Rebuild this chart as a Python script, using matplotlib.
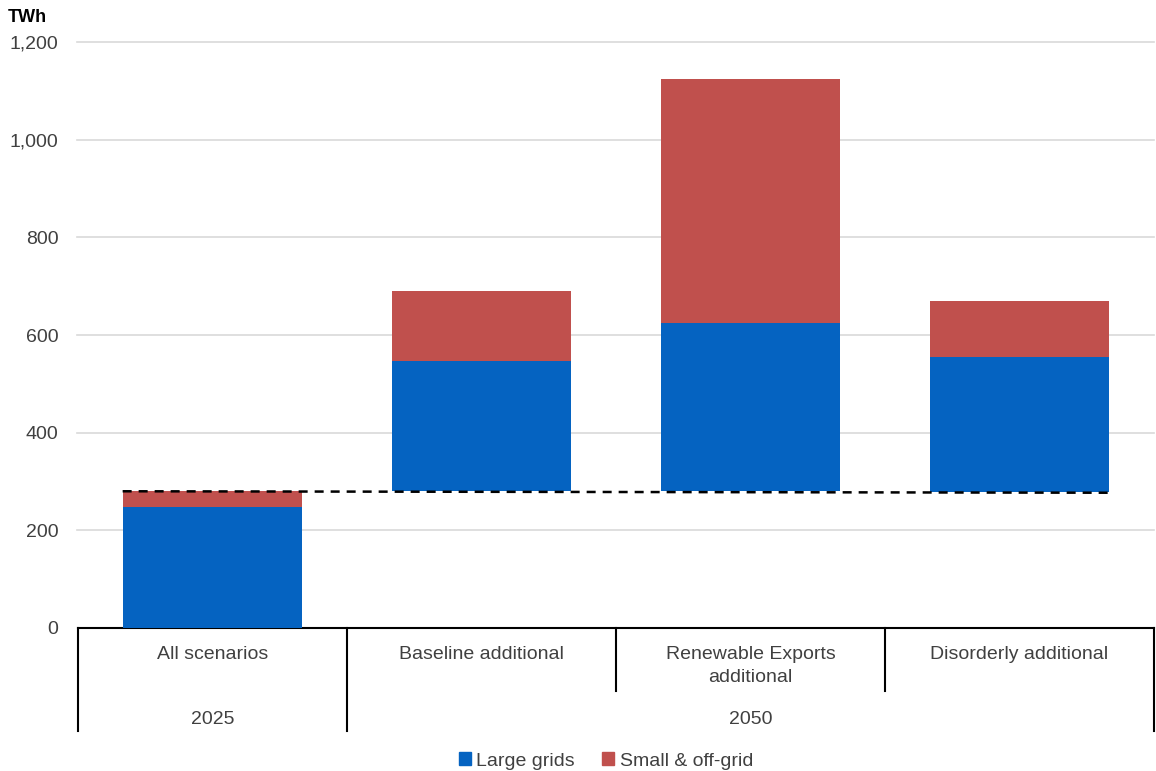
import matplotlib
matplotlib.use("Agg")
import matplotlib.pyplot as plt
from matplotlib.lines import Line2D
from matplotlib.transforms import blended_transform_factory
from matplotlib.patches import Patch

plt.rcParams['font.family'] = ['Liberation Sans', 'DejaVu Sans']

# Data (TWh)
categories = ["All scenarios", "Baseline additional", "Renewable Exports\nadditional", "Disorderly additional"]
years = ["2025", "2050"]
year_spans = [(0, 1), (1, 4)]          # category index ranges per year group
bar_base = [0, 280, 280, 279]
large_grids = [248, 267, 345, 276]
small_offgrid = [32, 143, 499, 115]
reference_line = [280, 277]            # 2025 total carried across scenarios
yticks = [0, 200, 400, 600, 800, 1000, 1200]

BLUE = "#0563C1"
RED = "#C0504D"
TXT = "#404040"

W, H = 1156, 771
fig = plt.figure(figsize=(W / 100, H / 100), dpi=100)
ax_left, ax_right, ax_top, ax_bottom = 78, 1154, 42, 628
ax = fig.add_axes([ax_left / W, 1 - ax_bottom / H, (ax_right - ax_left) / W, (ax_bottom - ax_top) / H])

x = list(range(len(categories)))
bw = 0.668
small_base = [b + l for b, l in zip(bar_base, large_grids)]
ax.bar(x, large_grids, bw, bottom=bar_base, color=BLUE, zorder=3)
ax.bar(x, small_offgrid, bw, bottom=small_base, color=RED, zorder=3)

# dashed reference line spanning all bars
ax.plot([x[0] - bw / 2, x[-1] + bw / 2], reference_line, color="black",
        lw=1.8, linestyle=(0, (3.6, 2.8)), zorder=4)

ax.set_xlim(-0.5, len(categories) - 0.5)
ax.set_ylim(0, 1200)
ax.set_yticks(yticks)
ax.set_yticklabels([f"{v:,}" for v in yticks], fontsize=14, color=TXT)
ax.tick_params(axis='y', length=0, pad=14)
ax.set_xticks([])
for y in yticks[1:]:
    ax.axhline(y, color="#d9d9d9", lw=1.2, zorder=1, xmin=-0.001, clip_on=False)
for s in ["top", "right", "left"]:
    ax.spines[s].set_visible(False)
ax.spines["bottom"].set_color("black")
ax.spines["bottom"].set_linewidth(1.5)

# multi-level category table under the axis
tr = blended_transform_factory(ax.transData, ax.transAxes)
span = ax_bottom - ax_top
def yfrac(py):
    return (ax_bottom - py) / span

mid_bottom = yfrac(691)
full_bottom = yfrac(731)
group_edges = {s for s, e in year_spans} | {e for s, e in year_spans}
for i in range(len(categories) + 1):
    xb = i - 0.5
    yb = full_bottom if i in group_edges else mid_bottom
    ax.add_line(Line2D([xb, xb], [0, yb], transform=tr, color="black", lw=1.5, clip_on=False))

for i, lab in enumerate(categories):
    ax.text(i, yfrac(646), lab, transform=tr, ha="center", va="top",
            fontsize=14, color=TXT, linespacing=1.45)

for (s, e), yr in zip(year_spans, years):
    ax.text((s + e - 1) / 2, yfrac(719), yr, transform=tr, ha="center", va="center",
            fontsize=14, color=TXT)

fig.text(8 / W, 1 - 17 / H, "TWh", fontsize=13, fontweight="bold", ha="left", va="center", color="black")

handles = [Patch(color=BLUE, label="Large grids"), Patch(color=RED, label="Small & off-grid")]
fig.legend(handles=handles, loc="center", bbox_to_anchor=(606 / W, 1 - 761 / H), ncol=2,
           frameon=False, fontsize=14, handlelength=0.6, handleheight=0.6,
           handletextpad=0.3, columnspacing=1.4, labelcolor=TXT)

fig.savefig("out.png", dpi=100)
